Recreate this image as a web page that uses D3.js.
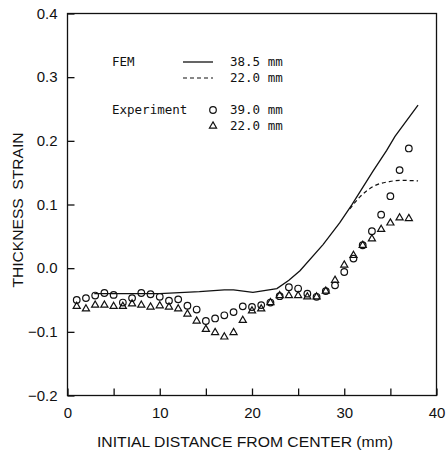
<!DOCTYPE html>
<html>
<head>
<meta charset="utf-8">
<script src="https://cdn.jsdelivr.net/npm/d3@7"></script>
<style>
  body { margin: 0; background: #fff; }
  svg text { fill: #111; }
</style>
</head>
<body>
<div id="chart"></div>
<script>
// experiment points, 1..37 mm
var expX = d3.range(1, 38);
var exp39 = [-0.050, -0.047, -0.043, -0.039, -0.042, -0.054, -0.047, -0.039, -0.041, -0.045,
  -0.051, -0.049, -0.059, -0.065, -0.083, -0.079, -0.074, -0.069, -0.060, -0.061,
  -0.058, -0.054, -0.044, -0.030, -0.032, -0.040, -0.045, -0.036, -0.027, -0.006,
  0.015, 0.036, 0.058, 0.084, 0.113, 0.154, 0.188];
var exp22 = [-0.060, -0.064, -0.058, -0.058, -0.060, -0.060, -0.056, -0.058, -0.061, -0.059,
  -0.061, -0.064, -0.072, -0.083, -0.096, -0.101, -0.108, -0.101, -0.082, -0.067,
  -0.064, -0.054, -0.043, -0.043, -0.043, -0.045, -0.045, -0.036, -0.019, 0.005,
  0.020, 0.036, 0.046, 0.061, 0.071, 0.079, 0.078];

// FEM curves
var fem385X = [2.9, 6, 10, 14.3, 17, 18, 20.1, 22.7, 24, 25.2, 27.7, 29.5, 30.8, 33.1, 34.6, 35.5, 38];
var fem385Y = [-0.040, -0.040, -0.040, -0.037, -0.034, -0.034, -0.038, -0.032, -0.019, -0.004, 0.037, 0.071, 0.099, 0.152, 0.185, 0.207, 0.256];
var fem22X = [30.6, 31.7, 33.1, 34.9, 36, 38];
var fem22Y = [0.093, 0.112, 0.128, 0.136, 0.138, 0.137];

var xTicks = [0, 10, 20, 30, 40];
var xMinor = [5, 15, 25, 35];
var yTicks = [-0.2, -0.1, 0.0, 0.1, 0.2, 0.3, 0.4];

var svgWidth = 447;
var svgHeight = 451;
var margin = { top: 13.5, right: 10.5, bottom: 55.5, left: 67.5 };
var width = svgWidth - margin.left - margin.right;
var height = svgHeight - margin.top - margin.bottom;

var svg = d3.select("#chart")
  .append("svg")
  .attr("width", svgWidth)
  .attr("height", svgHeight);

var g = svg.append("g")
  .attr("transform", `translate(${margin.left}, ${margin.top})`);

var x = d3.scaleLinear().domain([0, 40]).range([0, width]);
var y = d3.scaleLinear().domain([-0.2, 0.4]).range([height, 0]);

var tickFont = "'Liberation Sans', Arial, sans-serif";

// frame
g.append("rect")
  .attr("width", width)
  .attr("height", height)
  .attr("fill", "none")
  .attr("stroke", "#111")
  .attr("stroke-width", 1.3);

// bottom axis, ticks inside
var bottomAxis = d3.axisBottom(x).tickValues(xMinor.concat(xTicks)).tickSizeInner(-7).tickSizeOuter(0)
  .tickFormat(d => xTicks.indexOf(d) >= 0 ? d : "");
var gx = g.append("g")
  .attr("transform", `translate(0, ${height})`)
  .call(bottomAxis);
gx.select(".domain").remove();
gx.selectAll("line").attr("stroke", "#111").attr("stroke-width", 1.3);
gx.selectAll("text").attr("dy", 0).attr("y", 22)
  .style("font-family", tickFont).style("font-size", "15px");

// left axis
var leftAxis = d3.axisLeft(y).tickValues(yTicks).tickSizeInner(-7).tickSizeOuter(0)
  .tickFormat(d => d < 0 ? "\u2212" + Math.abs(d).toFixed(1) : d.toFixed(1));
var gy = g.append("g").call(leftAxis);
gy.select(".domain").remove();
gy.selectAll("line").attr("stroke", "#111").attr("stroke-width", 1.3);
gy.selectAll("text").attr("x", -10)
  .style("font-family", tickFont).style("font-size", "15px");

// axis titles
svg.append("text")
  .attr("x", 245)
  .attr("y", 447)
  .attr("text-anchor", "middle")
  .attr("textLength", 296)
  .attr("lengthAdjust", "spacingAndGlyphs")
  .style("font-family", tickFont)
  .style("font-size", "15px")
  .text("INITIAL DISTANCE FROM CENTER (mm)");

svg.append("text")
  .attr("transform", "translate(23, 210) rotate(-90)")
  .attr("text-anchor", "middle")
  .attr("textLength", 155)
  .attr("lengthAdjust", "spacingAndGlyphs")
  .style("font-family", tickFont)
  .style("font-size", "14.5px")
  .style("white-space", "pre")
  .text("THICKNESS  STRAIN");

// FEM lines
var line = d3.line().x(d => x(d[0])).y(d => y(d[1]));

g.append("path")
  .datum(d3.zip(fem385X, fem385Y))
  .attr("d", line)
  .attr("fill", "none")
  .attr("stroke", "#111")
  .attr("stroke-width", 1.3);

g.append("path")
  .datum(d3.zip(fem22X, fem22Y))
  .attr("d", line.curve(d3.curveMonotoneX))
  .attr("fill", "none")
  .attr("stroke", "#111")
  .attr("stroke-width", 1.2)
  .attr("stroke-dasharray", "4,3");

// experiment markers
var tri = d3.symbol().type(d3.symbolTriangle).size(22);

g.selectAll(".tri")
  .data(d3.zip(expX, exp22))
  .enter()
  .append("path")
  .attr("class", "tri")
  .attr("d", tri)
  .attr("transform", d => `translate(${x(d[0])}, ${y(d[1])})`)
  .attr("fill", "none")
  .attr("stroke", "#111")
  .attr("stroke-width", 1.2);

g.selectAll(".circ")
  .data(d3.zip(expX, exp39))
  .enter()
  .append("circle")
  .attr("class", "circ")
  .attr("cx", d => x(d[0]))
  .attr("cy", d => y(d[1]))
  .attr("r", 3.3)
  .attr("fill", "none")
  .attr("stroke", "#111")
  .attr("stroke-width", 1.2);

// legend
var legFont = "'DejaVu Sans Mono', 'Liberation Mono', monospace";
var leg = svg.append("g").style("font-family", legFont).style("font-size", "12.5px");

leg.append("text").attr("x", 112).attr("y", 66).text("FEM");
leg.append("line").attr("x1", 183).attr("x2", 213).attr("y1", 62).attr("y2", 62)
  .attr("stroke", "#111").attr("stroke-width", 1.3);
leg.append("text").attr("x", 230).attr("y", 66).text("38.5 mm");
leg.append("line").attr("x1", 183).attr("x2", 213).attr("y1", 78).attr("y2", 78)
  .attr("stroke", "#111").attr("stroke-width", 1.2).attr("stroke-dasharray", "4,3");
leg.append("text").attr("x", 230).attr("y", 82).text("22.0 mm");

leg.append("text").attr("x", 112).attr("y", 114).text("Experiment");
leg.append("circle").attr("cx", 213).attr("cy", 110).attr("r", 3.3)
  .attr("fill", "none").attr("stroke", "#111").attr("stroke-width", 1.2);
leg.append("text").attr("x", 230).attr("y", 114).text("39.0 mm");
leg.append("path").attr("d", tri).attr("transform", "translate(213, 126)")
  .attr("fill", "none").attr("stroke", "#111").attr("stroke-width", 1.2);
leg.append("text").attr("x", 230).attr("y", 130).text("22.0 mm");
</script>
</body>
</html>
